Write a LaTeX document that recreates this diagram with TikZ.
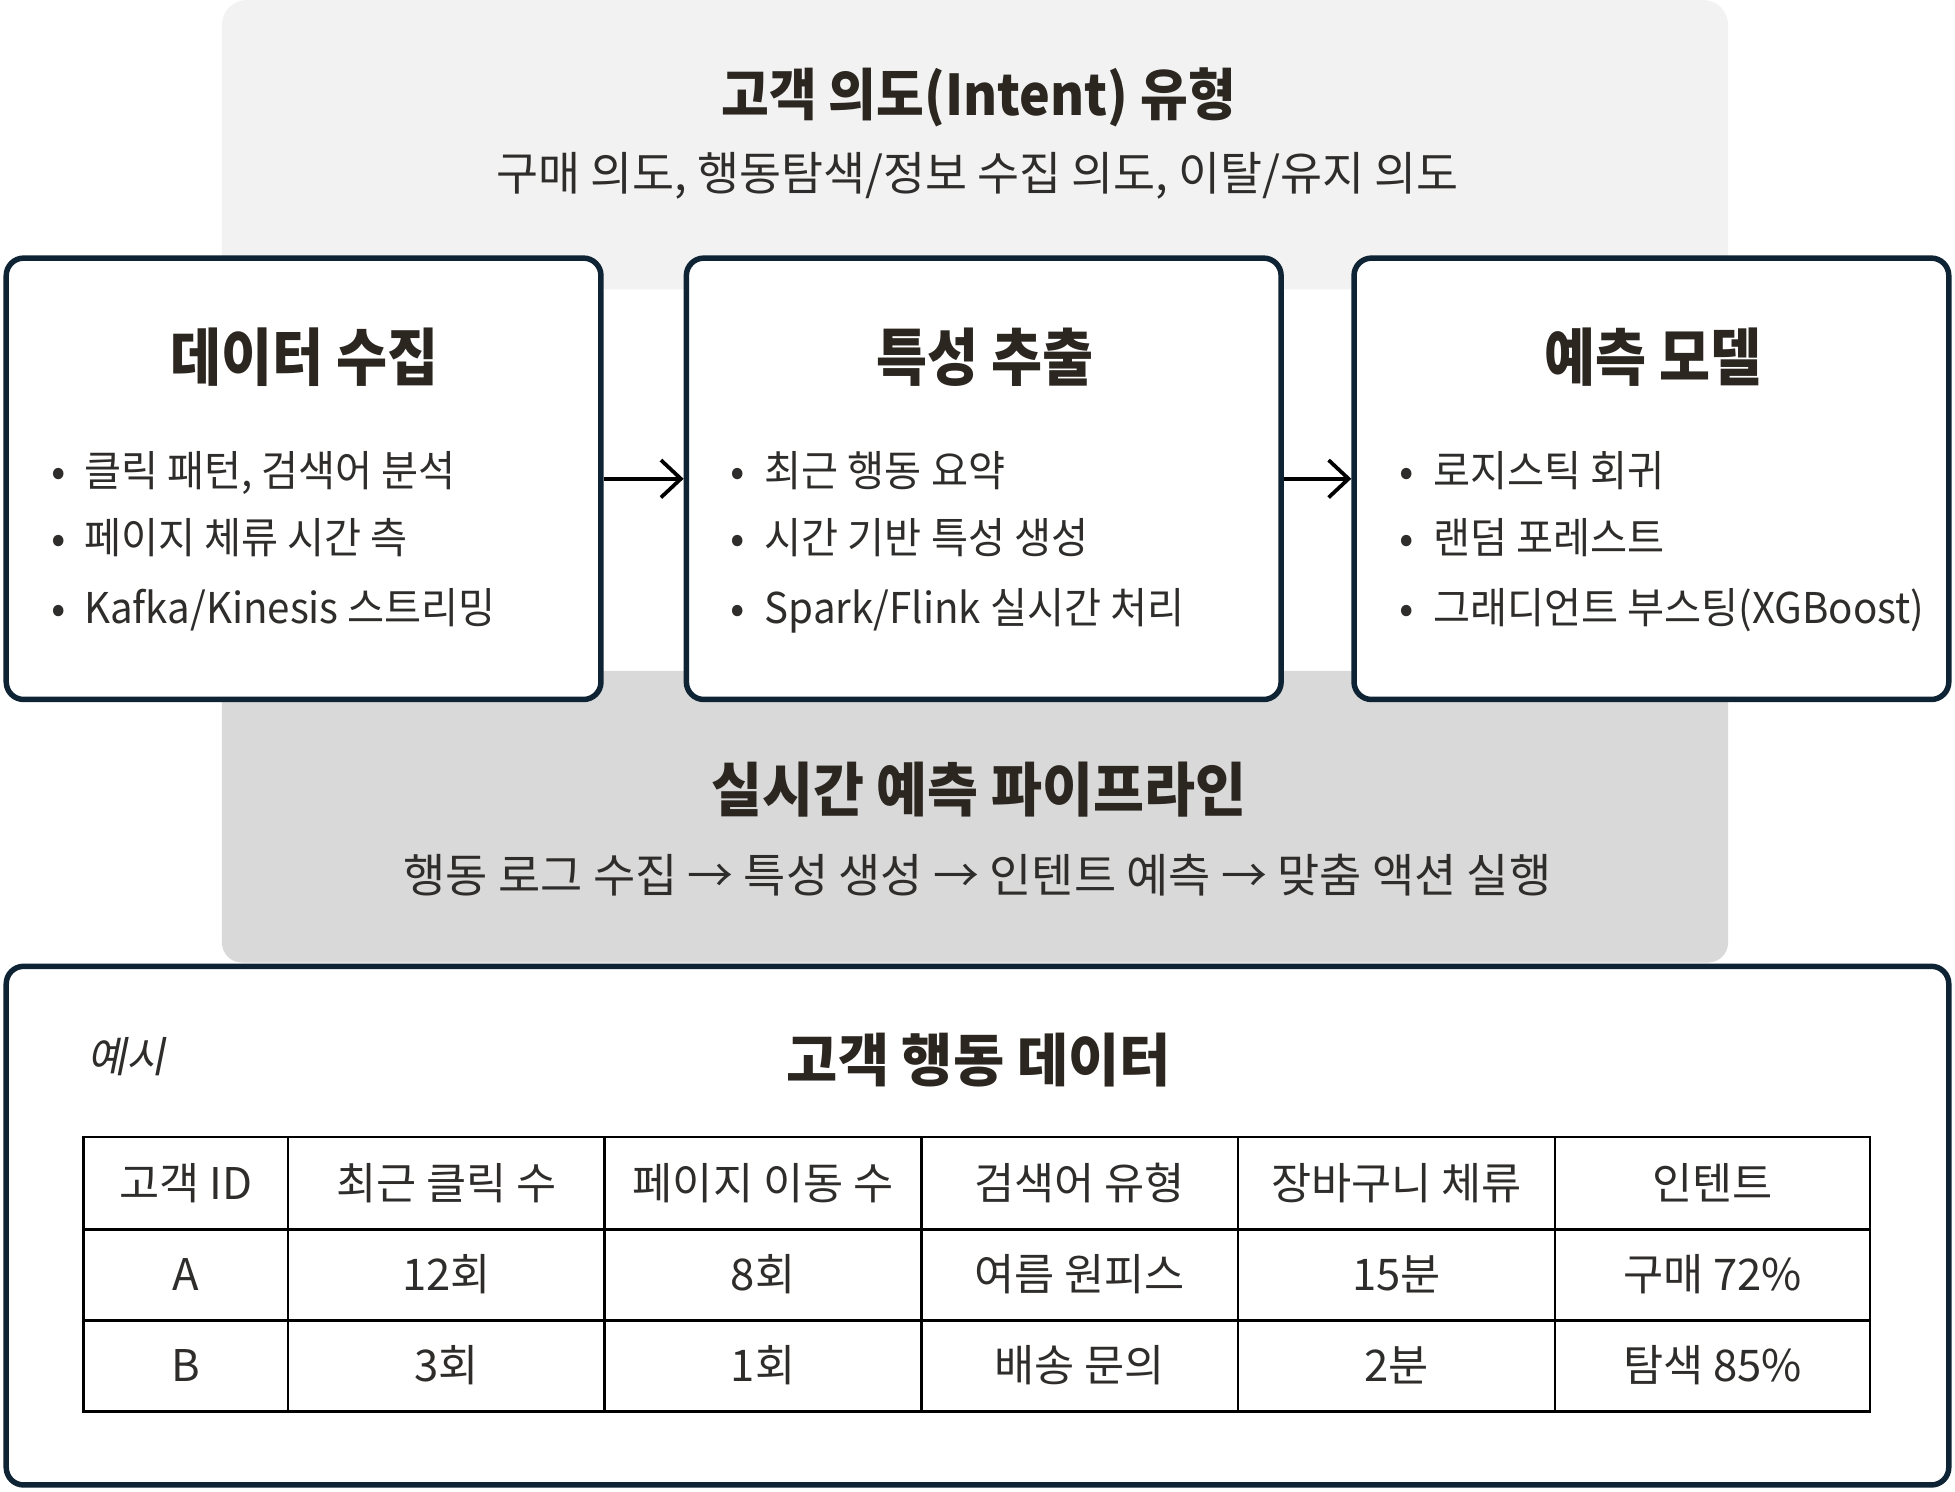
\documentclass[tikz,border=0pt]{standalone}
\usepackage{fontspec}
\setmainfont{Noto Sans CJK KR}
\usetikzlibrary{arrows.meta}
\definecolor{titlecol}{HTML}{2B2620}
\definecolor{bodycol}{HTML}{2F2D2B}
\definecolor{bordercol}{HTML}{0E2435}
\definecolor{topgray}{HTML}{F2F2F2}
\definecolor{botgray}{HTML}{D9D9D9}
\tikzset{
  bigtitle/.style={text=titlecol, inner sep=0pt, anchor=base, font=\fontsize{22.5}{27}\selectfont\bfseries\addfontfeatures{FakeStretch=0.925}},
  subline/.style={text=bodycol, inner sep=0pt, anchor=base, font=\fontsize{18.5}{22}\selectfont\addfontfeatures{FakeStretch=0.99}},
  boxtitle/.style={text=titlecol, inner sep=0pt, anchor=base, font=\fontsize{25}{30}\selectfont\bfseries\addfontfeatures{FakeStretch=0.89}},
  item/.style={text=bodycol, inner sep=0pt, anchor=base west, font=\fontsize{17}{20}\selectfont\addfontfeatures{FakeStretch=0.95}},
  bulletmark/.style={text=bodycol, inner sep=0pt, anchor=base, font=\fontsize{17}{20}\selectfont},
  card/.style={draw=bordercol, line width=2.2pt, rounded corners=7pt, fill=white, inner sep=0pt, minimum width=238.5pt, minimum height=177pt},
  cell/.style={text=bodycol, inner sep=0pt, anchor=base, font=\fontsize{17.5}{21}\selectfont\addfontfeatures{FakeStretch=1.0}},
  flow/.style={-{Straight Barb[length=8pt,width=15pt]}, line width=1.5pt, black},
  gridline/.style={line width=1pt, black},
}
\begin{document}
\begin{tikzpicture}[x=0.5pt,y=-0.5pt]
\useasboundingbox (0,0) rectangle (1568,1196);

% background panels
\fill[topgray, rounded corners=10pt] (178,0) rectangle (1386,232);
\fill[botgray, rounded corners=8pt] (178,538) rectangle (1386,772);

% top panel text
\node[bigtitle] (t1) at (785,93) {고객 의도(Intent) 유형};
\node[subline] (t2) at (784,153) {구매 의도, 행동탐색/정보 수집 의도, 이탈/유지 의도};

% cards
\node[card] (b1) at (243.5,384) {};
\node[card] (b2) at (789,384) {};
\node[card] (b3) at (1324.5,384) {};

\draw[flow] (b1.east) -- (b2.west);
\draw[flow] (b2.east) -- (b3.west);

\node[boxtitle] (h1) at (244,305) {데이터 수집};
\node[boxtitle] (h2) at (790,305) {특성 추출};
\node[boxtitle] (h3) at (1326,305) {예측 모델};

\node[bulletmark] at (47,390) {•};
\node[bulletmark] at (47,444) {•};
\node[bulletmark] at (47,500) {•};
\node[item] (i11) at (67,390) {클릭 패턴, 검색어 분석};
\node[item] (i12) at (67,444) {페이지 체류 시간 측};
\node[item] (i13) at (67,500) {Kafka/Kinesis 스트리밍};

\node[bulletmark] at (592,390) {•};
\node[bulletmark] at (592,444) {•};
\node[bulletmark] at (592,500) {•};
\node[item] (i21) at (613,390) {최근 행동 요약};
\node[item] (i22) at (613,444) {시간 기반 특성 생성};
\node[item] (i23) at (613,500) {Spark/Flink 실시간 처리};

\node[bulletmark] at (1128,390) {•};
\node[bulletmark] at (1128,444) {•};
\node[bulletmark] at (1128,500) {•};
\node[item] (i31) at (1149,390) {로지스틱 회귀};
\node[item] (i32) at (1149,444) {랜덤 포레스트};
\node[item] (i33) at (1149,500) {그래디언트 부스팅(XGBoost)};

% pipeline panel text
\node[bigtitle, font=\fontsize{23.5}{28}\selectfont\bfseries\addfontfeatures{FakeStretch=0.945}] (p1) at (785,651) {실시간 예측 파이프라인};
\node[subline, font=\fontsize{18.5}{22}\selectfont\addfontfeatures{FakeStretch=0.995}] (p2) at (784,716) {행동 로그 수집 → 특성 생성 → 인텐트 예측 → 맞춤 액션 실행};

% example card
\node[card, minimum width=779pt, minimum height=208pt] (ex) at (784,983) {};
\node[text=bodycol, inner sep=0pt, anchor=base west, font=\fontsize{17}{20}\selectfont\addfontfeatures{FakeSlant=0.2}] (ex0) at (70,860) {예시};
\node[bigtitle, font=\fontsize{23}{28}\selectfont\bfseries\addfontfeatures{FakeStretch=0.97}] (ex1) at (785,867) {고객 행동 데이터};

% table
\draw[gridline] (67,912) rectangle (1500,1132);
\draw[gridline] (67,986) -- (1500,986);
\draw[gridline] (67,1059) -- (1500,1059);
\foreach \cx in {231,485,739,993,1247} \draw[gridline] (\cx,912) -- (\cx,1132);

\node[cell] (c11) at (149,962) {고객 ID};
\node[cell] (c12) at (358,962) {최근 클릭 수};
\node[cell] (c13) at (612,962) {페이지 이동 수};
\node[cell] (c14) at (866,962) {검색어 유형};
\node[cell] (c15) at (1120,962) {장바구니 체류};
\node[cell] (c16) at (1373.5,962) {인텐트};

\node[cell] (c21) at (149,1035) {A};
\node[cell] (c22) at (358,1035) {12회};
\node[cell] (c23) at (612,1035) {8회};
\node[cell] (c24) at (866,1035) {여름 원피스};
\node[cell] (c25) at (1120,1035) {15분};
\node[cell] (c26) at (1373.5,1035) {구매 72\%};

\node[cell] (c31) at (149,1108) {B};
\node[cell] (c32) at (358,1108) {3회};
\node[cell] (c33) at (612,1108) {1회};
\node[cell] (c34) at (866,1108) {배송 문의};
\node[cell] (c35) at (1120,1108) {2분};
\node[cell] (c36) at (1373.5,1108) {탐색 85\%};
\end{tikzpicture}
\end{document}
